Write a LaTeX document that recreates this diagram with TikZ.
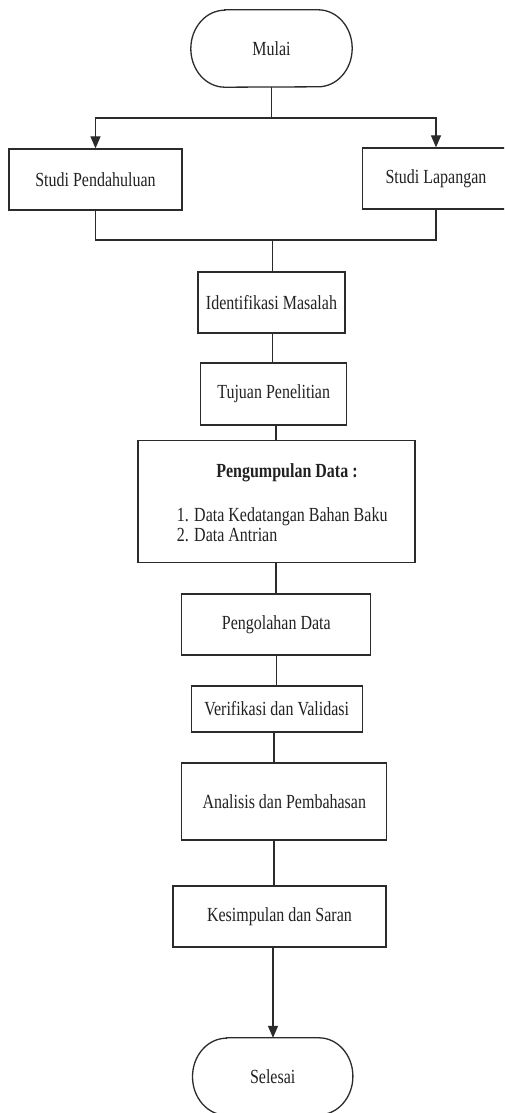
\documentclass[tikz,border=0pt]{standalone}
\usepackage{fontspec}
\setmainfont[FakeStretch=0.8]{Liberation Serif}
\usetikzlibrary{arrows.meta}
\definecolor{ln}{HTML}{2B2B2B}
\definecolor{tx}{HTML}{222222}
\newcommand{\stadiumoutline}[1]{%
  \draw[conn] ([xshift=34pt]#1.north west) -- ([xshift=-34pt]#1.north east)
    arc[start angle=90, end angle=-90, x radius=34pt, y radius=38.5pt]
    -- ([xshift=34pt]#1.south west)
    arc[start angle=270, end angle=90, x radius=34pt, y radius=38.5pt] -- cycle;}
\begin{document}
\begin{tikzpicture}[x=1pt,y=-1pt,
  every node/.style={font=\fontsize{20}{20}\selectfont, text=tx},
  box/.style={draw=ln, line width=1.3pt, rectangle, inner sep=0pt},
  term/.style={rectangle, inner sep=0pt},
  conn/.style={draw=ln, line width=1.3pt},
  arr/.style={conn, -{Triangle[length=12pt,width=10pt]}}]
\clip (0,0) rectangle (504,1113);
\fill[white] (0,0) rectangle (504,1113);
% nodes
\node[term, minimum width=161pt, minimum height=77pt] (mulai) at (271.5,48.5) {Mulai};
\stadiumoutline{mulai}
\coordinate (split) at (271.5,118);
\node[box, minimum width=173pt, minimum height=61pt] (sp) at (95.5,179.5) {Studi Pendahuluan};
\node[box, minimum width=147pt, minimum height=61pt] (sl) at (436,178.5) {Studi Lapangan};
\coordinate (join) at (272.5,240);
\node[box, minimum width=147pt, minimum height=61pt] (idm) at (271.5,302.5) {Identifikasi Masalah};
\node[box, minimum width=146pt, minimum height=62pt] (tuj) at (273.7,394) {Tujuan Penelitian};
\node[box, minimum width=277pt, minimum height=122pt] (pd) at (276.5,501.6) {};
\node[font=\fontsize{20}{20}\selectfont\bfseries] (pdt) at (287,473) {Pengumpulan Data :};
\node[anchor=west, align=left, inner sep=0pt] (pdl) at (176.7,525) {1. Data Kedatangan Bahan Baku\\2. Data Antrian};
\node[box, minimum width=189pt, minimum height=61pt] (pol) at (276.3,624.5) {Pengolahan Data};
\node[box, minimum width=171pt, minimum height=46pt] (ver) at (276.7,709) {Verifikasi dan Validasi};
\node[box, minimum width=205pt, minimum height=77pt] (ana) at (284.3,801.5) {Analisis dan Pembahasan};
\node[box, minimum width=213pt, minimum height=61pt] (kes) at (279.5,916.5) {Kesimpulan dan Saran};
\node[term, minimum width=160pt, minimum height=77pt] (sel) at (272.7,1076.5) {Selesai};
\stadiumoutline{sel}
% connectors
\draw[conn] (mulai.south) -- (split);
\draw[arr] (split) -| (sp.north);
\draw[arr] (split) -| (sl.north);
\draw[conn] (sp.south) |- (join);
\draw[conn] (sl.south) |- (join);
\draw[conn] (join) -- (join |- idm.north);
\draw[conn] ([xshift=1.2pt]idm.south) -- ([xshift=-1pt]tuj.north);
\draw[conn] ([xshift=2.3pt]tuj.south) -- ([xshift=-0.5pt]pd.north);
\draw[conn] ([xshift=-0.5pt]pd.south) -- ([xshift=-0.3pt]pol.north);
\draw[conn] ([xshift=0.4pt]pol.south) -- (ver.north);
\draw[conn] ([xshift=-2.7pt]ver.south) -- ([xshift=-10.3pt]ana.north);
\draw[conn] ([xshift=-10.3pt]ana.south) -- ([xshift=-5.5pt]kes.north);
\draw[arr] ([xshift=-6.5pt]kes.south) -- ([xshift=0.3pt]sel.north);
\end{tikzpicture}
\end{document}
